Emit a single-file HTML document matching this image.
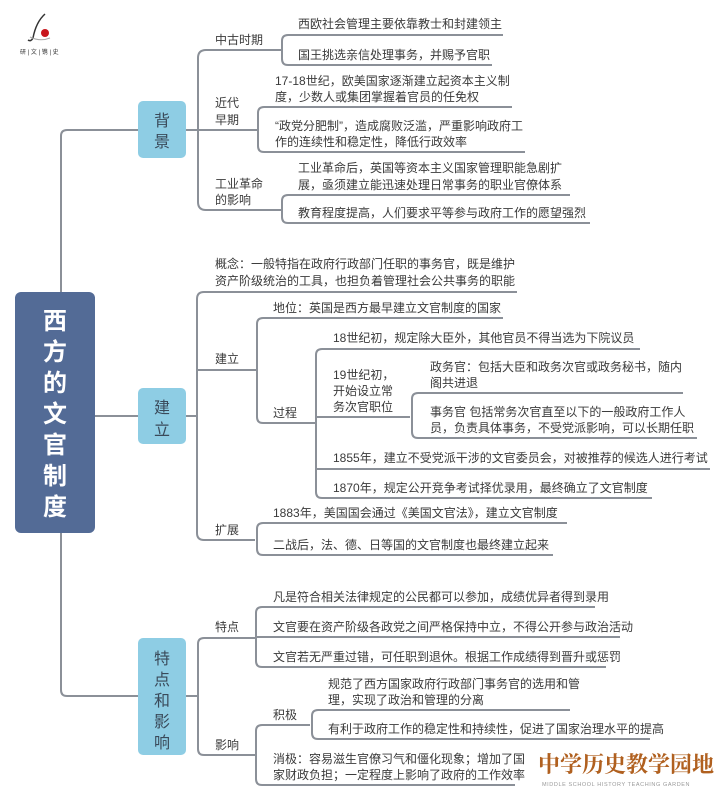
<!DOCTYPE html>
<html><head><meta charset="utf-8"><style>
html,body{margin:0;padding:0;background:#fff;}
svg{display:block;}
text{font-family:"Liberation Sans","Noto Sans CJK SC",sans-serif;font-size:12px;fill:#3a3a3a;}
</style></head><body>
<svg width="725" height="800" viewBox="0 0 725 800" xmlns="http://www.w3.org/2000/svg">
<g fill="none" stroke="#8b9098" stroke-width="2">
<path d="M138 130 H67 Q61 130 61 136 V690 Q61 696 67 696 H138"/>
<path d="M95 416 H138"/>
<path d="M186 130 H198"/>
<path d="M280 50 H206 Q198 50 198 58 V202 Q198 210 206 210 H280"/>
<path d="M198 130 H258"/>
<path d="M282 50 V41 Q282 35 288 35 H503 M282 50 V59 Q282 65 288 65 H492 M280 50 H282"/>
<path d="M258 130 V113 Q258 107 264 107 H512 M258 130 V146 Q258 152 264 152 H525"/>
<path d="M282 210 V201 Q282 195 288 195 H570 M282 210 V217 Q282 223 288 223 H590 M280 210 H282"/>
<path d="M186 416 H197"/>
<path d="M517 292 H204 Q197 292 197 299 V533 Q197 540 204 540 H255"/>
<path d="M197 370 H257"/>
<path d="M257 370 V324 Q257 318 263 318 H503 M257 370 V417 Q257 423 263 423 H315"/>
<path d="M316 423 V355 Q316 349 322 349 H640 M316 423 V492 Q316 498 322 498 H652 M316 417 H410 M316 469 H710"/>
<path d="M412 417 V399 Q412 393 418 393 H683 M412 417 V432 Q412 438 418 438 H697"/>
<path d="M257 540 V529 Q257 523 263 523 H567 M257 540 V549 Q257 555 263 555 H553"/>
<path d="M186 696 H198"/>
<path d="M256 638 H204 Q198 638 198 644 V749 Q198 755 204 755 H256"/>
<path d="M256 638 V613 Q256 607 262 607 H595 M256 638 V661 Q256 667 262 667 H606 M256 637 H620"/>
<path d="M256 755 V731 Q256 725 262 725 H310 M256 755 V779 Q256 785 262 785 H515"/>
<path d="M312 725 V716 Q312 710 318 710 H570 M312 725 V733 Q312 739 318 739 H650"/>
</g>
<rect x="15" y="292" width="80" height="241" rx="6" fill="#536b96"/>
<g text-anchor="middle">
<text x="55" y="329" style="font-size:24px;font-weight:bold;fill:#fff">西</text>
<text x="55" y="360" style="font-size:24px;font-weight:bold;fill:#fff">方</text>
<text x="55" y="391" style="font-size:24px;font-weight:bold;fill:#fff">的</text>
<text x="55" y="422" style="font-size:24px;font-weight:bold;fill:#fff">文</text>
<text x="55" y="453" style="font-size:24px;font-weight:bold;fill:#fff">官</text>
<text x="55" y="484" style="font-size:24px;font-weight:bold;fill:#fff">制</text>
<text x="55" y="515" style="font-size:24px;font-weight:bold;fill:#fff">度</text>
</g>
<rect x="138" y="101" width="48" height="57" rx="5" fill="#8ecde4"/>
<rect x="138" y="388" width="48" height="56" rx="5" fill="#8ecde4"/>
<rect x="138" y="638" width="48" height="117" rx="5" fill="#8ecde4"/>
<g text-anchor="middle">
<text x="162" y="126" style="font-size:16px;fill:#3a4a5a">背</text>
<text x="162" y="147" style="font-size:16px;fill:#3a4a5a">景</text>
<text x="162" y="413" style="font-size:16px;fill:#3a4a5a">建</text>
<text x="162" y="435" style="font-size:16px;fill:#3a4a5a">立</text>
<text x="162" y="664" style="font-size:16px;fill:#3a4a5a">特</text>
<text x="162" y="685" style="font-size:16px;fill:#3a4a5a">点</text>
<text x="162" y="706" style="font-size:16px;fill:#3a4a5a">和</text>
<text x="162" y="727" style="font-size:16px;fill:#3a4a5a">影</text>
<text x="162" y="748" style="font-size:16px;fill:#3a4a5a">响</text>
</g>
<text x="215" y="44">中古时期</text>
<text x="298" y="28">西欧社会管理主要依靠教士和封建领主</text>
<text x="298" y="59">国王挑选亲信处理事务，并赐予官职</text>
<text x="215" y="107">近代</text>
<text x="215" y="124">早期</text>
<text x="275" y="85">17-18世纪，欧美国家逐渐建立起资本主义制</text>
<text x="275" y="101">度，少数人或集团掌握着官员的任免权</text>
<text x="275" y="130">“政党分肥制”，造成腐败泛滥，严重影响政府工</text>
<text x="275" y="146">作的连续性和稳定性，降低行政效率</text>
<text x="215" y="188">工业革命</text>
<text x="215" y="204">的影响</text>
<text x="298" y="172">工业革命后，英国等资本主义国家管理职能急剧扩</text>
<text x="298" y="189">展，亟须建立能迅速处理日常事务的职业官僚体系</text>
<text x="298" y="217">教育程度提高，人们要求平等参与政府工作的愿望强烈</text>
<text x="215" y="268">概念：一般特指在政府行政部门任职的事务官，既是维护</text>
<text x="215" y="285">资产阶级统治的工具，也担负着管理社会公共事务的职能</text>
<text x="215" y="363">建立</text>
<text x="273" y="312">地位：英国是西方最早建立文官制度的国家</text>
<text x="273" y="417">过程</text>
<text x="333" y="342">18世纪初，规定除大臣外，其他官员不得当选为下院议员</text>
<text x="333" y="379">19世纪初，</text>
<text x="333" y="395">开始设立常</text>
<text x="333" y="411">务次官职位</text>
<text x="430" y="371">政务官：包括大臣和政务次官或政务秘书，随内</text>
<text x="430" y="387">阁共进退</text>
<text x="430" y="416">事务官 包括常务次官直至以下的一般政府工作人</text>
<text x="430" y="432">员，负责具体事务，不受党派影响，可以长期任职</text>
<text x="333" y="462">1855年，建立不受党派干涉的文官委员会，对被推荐的候选人进行考试</text>
<text x="333" y="492">1870年，规定公开竞争考试择优录用，最终确立了文官制度</text>
<text x="215" y="534">扩展</text>
<text x="273" y="517">1883年，美国国会通过《美国文官法》，建立文官制度</text>
<text x="273" y="549">二战后，法、德、日等国的文官制度也最终建立起来</text>
<text x="215" y="631">特点</text>
<text x="273" y="601">凡是符合相关法律规定的公民都可以参加，成绩优异者得到录用</text>
<text x="273" y="631">文官要在资产阶级各政党之间严格保持中立，不得公开参与政治活动</text>
<text x="273" y="661">文官若无严重过错，可任职到退休。根据工作成绩得到晋升或惩罚</text>
<text x="273" y="719">积极</text>
<text x="328" y="688">规范了西方国家政府行政部门事务官的选用和管</text>
<text x="328" y="704">理，实现了政治和管理的分离</text>
<text x="328" y="733">有利于政府工作的稳定性和持续性，促进了国家治理水平的提高</text>
<text x="215" y="749">影响</text>
<text x="273" y="763">消极：容易滋生官僚习气和僵化现象；增加了国</text>
<text x="273" y="779">家财政负担；一定程度上影响了政府的工作效率</text>
<path d="M45 14 Q36 22 33 38 Q31 42 28 40" stroke="#333" stroke-width="1.5" fill="none"/>
<path d="M30 37 Q40 42 50 38" stroke="#aaa" stroke-width="1" fill="none"/>
<circle cx="45" cy="33" r="4" fill="#c8161d"/>
<text x="20" y="54" style="font-size:6px;fill:#333">研 | 文 | 镌 | 史</text>
<text x="538" y="772" style="font-family:'Noto Serif CJK SC',serif;font-size:22px;font-weight:bold;fill:#b0601f">中学历史教学园地</text>
<text x="542" y="786" style="font-size:5.5px;fill:#999;letter-spacing:0.6px">MIDDLE SCHOOL HISTORY TEACHING GARDEN</text>
</svg>
</body></html>
